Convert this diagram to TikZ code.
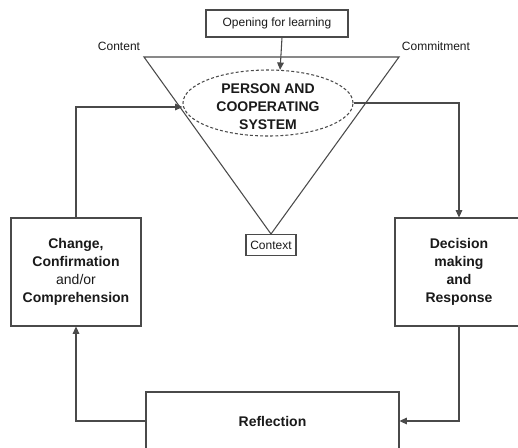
\documentclass[tikz,border=0pt]{standalone}
\usepackage{fontspec}
\setmainfont{Liberation Sans}
\usetikzlibrary{arrows.meta,shapes.geometric}
\definecolor{linegray}{HTML}{4A4A4A}
\definecolor{inkgray}{HTML}{1A1A1A}
\begin{document}
\begin{tikzpicture}[x=0.75pt,y=-0.75pt,
  every node/.style={text=inkgray,font=\fontsize{10.5}{13.5}\selectfont},
  line/.style={draw=linegray,line width=0.8pt},
  arr/.style={line,-{Triangle[length=5.5pt,width=5pt]}},
  stagebox/.style={line,fill=white,align=center,inner sep=0pt},
  smalltext/.style={font=\fontsize{9}{11}\selectfont},
  smallbox/.style={line,fill=white,smalltext,inner sep=0pt}]
\useasboundingbox (0,0) rectangle (518,447);
\clip (0,0) rectangle (518,447);

% the inverted triangle of content, commitment and context
\coordinate (tl) at (144,57);
\coordinate (tr) at (399,57);
\coordinate (apex) at (271,234);
\draw[line] (tl) -- (tr) -- (apex) -- cycle;

\node[smalltext] (content) at (119,46) {Content};
\node[smalltext] (commit) at (436,46) {Commitment};
\node[smallbox,anchor=north,minimum width=37.5pt,minimum height=15.5pt] (context) at (apex) {Context};

% the person at the centre
\node[ellipse,draw=linegray,line width=0.8pt,dash pattern=on 2.2pt off 1.6pt,
      minimum width=127.5pt,minimum height=49.5pt,inner sep=0pt] (ell) at (268,103) {};
\node[align=center,font=\fontsize{10.5}{13.5}\selectfont\bfseries] (person) at (268,107)
  {PERSON AND\\COOPERATING\\SYSTEM};

\node[smallbox,minimum width=106.5pt,minimum height=20.25pt] (open) at (277,23.5) {Opening for learning};

% the cycle of stages
\node[stagebox,minimum width=97.5pt,minimum height=81pt] (lbox) at (76,272)
  {\textbf{Change,}\\\textbf{Confirmation}\\and/or\\\textbf{Comprehension}};
\node[stagebox,minimum width=96pt,minimum height=81pt] (rbox) at (459,272)
  {\textbf{Decision}\\\textbf{making}\\\textbf{and}\\\textbf{Response}};
\node[stagebox,minimum width=189.75pt,minimum height=43.5pt,font=\fontsize{10.5}{13.5}\selectfont\bfseries] (refl) at (272.5,421) {Reflection};

% connectors
\draw[arr] ([xshift=3.75pt]open.south) -- (ell.70);
\draw[arr] (lbox.north) |- ([yshift=-3pt]ell.west);
\draw[arr] (ell.east) -| (rbox.north);
\draw[arr] (rbox.south) |- (refl.east);
\draw[arr] (refl.west) -| (lbox.south);
\end{tikzpicture}
\end{document}
